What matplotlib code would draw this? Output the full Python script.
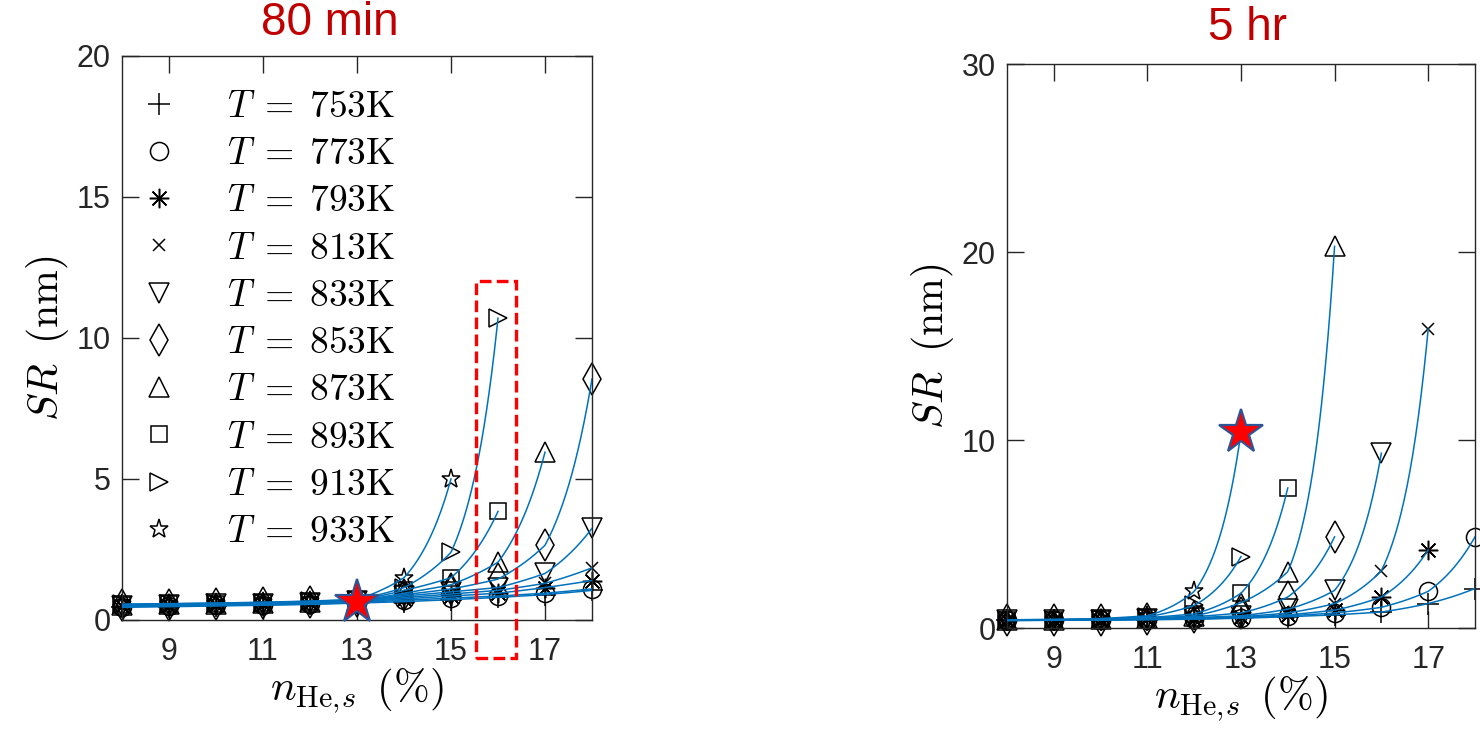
import numpy as np
import matplotlib
matplotlib.use('Agg')
import matplotlib.pyplot as plt
from matplotlib.patches import Rectangle

plt.rcParams['mathtext.fontset'] = 'cm'
plt.rcParams['font.family'] = ['Liberation Sans', 'DejaVu Sans']

nan = np.nan

# helium concentration (%)
n_he = [8, 9, 10, 11, 12, 13, 14, 15, 16, 17, 18]
temps = [753, 773, 793, 813, 833, 853, 873, 893, 913, 933]

# SR (nm) after 80 min, one row per temperature
sr_80min = [
    [0.45, 0.47, 0.50, 0.52, 0.55, 0.60, 0.65, 0.72, 0.80, 0.90, 1.05],
    [0.47, 0.49, 0.52, 0.54, 0.57, 0.62, 0.70, 0.78, 0.85, 0.95, 1.10],
    [0.48, 0.50, 0.53, 0.56, 0.59, 0.64, 0.75, 0.85, 0.95, 1.15, 1.40],
    [0.50, 0.52, 0.55, 0.58, 0.61, 0.66, 0.80, 0.92, 1.05, 1.30, 1.85],
    [0.50, 0.52, 0.55, 0.58, 0.62, 0.67, 0.85, 1.00, 1.15, 1.65, 3.25],
    [0.52, 0.54, 0.56, 0.59, 0.63, 0.68, 0.90, 1.10, 1.45, 2.65, 8.55],
    [0.53, 0.55, 0.57, 0.60, 0.64, 0.69, 0.95, 1.25, 2.05, 5.95, nan],
    [0.54, 0.56, 0.58, 0.61, 0.65, 0.70, 1.05, 1.50, 3.85, nan, nan],
    [0.55, 0.57, 0.59, 0.62, 0.66, 0.72, 1.15, 2.40, 10.7, nan, nan],
    [0.56, 0.58, 0.60, 0.63, 0.67, 0.73, 1.50, 5.00, nan, nan, nan],
]

# SR (nm) after 5 hr
sr_5hr = [
    [0.40, 0.41, 0.42, 0.44, 0.47, 0.52, 0.60, 0.70, 0.85, 1.30, 2.10],
    [0.40, 0.41, 0.43, 0.45, 0.48, 0.54, 0.65, 0.80, 1.10, 1.95, 4.85],
    [0.41, 0.42, 0.43, 0.46, 0.50, 0.56, 0.70, 0.95, 1.65, 4.15, nan],
    [0.41, 0.42, 0.44, 0.47, 0.52, 0.60, 0.80, 1.30, 3.05, 15.9, nan],
    [0.42, 0.43, 0.45, 0.48, 0.55, 0.65, 1.00, 2.00, 9.30, nan, nan],
    [0.42, 0.43, 0.45, 0.50, 0.60, 0.80, 1.65, 4.85, nan, nan, nan],
    [0.42, 0.44, 0.46, 0.52, 0.65, 1.35, 3.00, 20.3, nan, nan, nan],
    [0.43, 0.44, 0.47, 0.55, 0.75, 1.85, 7.45, nan, nan, nan, nan],
    [0.43, 0.45, 0.48, 0.60, 1.20, 3.80, nan, nan, nan, nan, nan],
    [0.44, 0.45, 0.50, 0.65, 1.95, 10.4, nan, nan, nan, nan, nan],
]

# highlighted points (n_He, SR)
star_80min = (13, 0.65)
star_5hr = (13, 10.4)

markers = ['+', 'o', (8, 2, 0), 'x', 'v', 'd', '^', 's', '>', '*']
msizes = [16, 13, 14, 9, 14, 16, 14, 11, 13, 14]
line_blue = '#0072BD'
dark = '#262626'


def smooth(x, y):
    # draw the curve through the points, exponential between neighbours
    x = np.asarray(x, float)
    y = np.asarray(y, float)
    ok = ~np.isnan(y)
    x, y = x[ok], y[ok]
    xf = np.linspace(x[0], x[-1], 300)
    return xf, np.exp(np.interp(xf, x, np.log(y)))


def draw_panel(ax, data, ymax, yticks, star, legend=False):
    for i, t in enumerate(temps):
        ax.plot(n_he, data[i], linestyle='none', marker=markers[i],
                markersize=msizes[i], mfc='none', mec='k', mew=1.1,
                label=r'$T\;=\;%d\mathrm{K}$' % t, zorder=2, clip_on=False)
    for i in range(len(temps)):
        xs, ys = smooth(n_he, data[i])
        ax.plot(xs, ys, color=line_blue, lw=1.1, zorder=3)
    ax.plot(star[0], star[1], marker='*', markersize=33, mfc='#FF0000',
            mec='#2F5597', mew=1.6, linestyle='none', zorder=5, clip_on=False)

    ax.set_xlim(8, 18)
    ax.set_ylim(0, ymax)
    ax.set_xticks([9, 11, 13, 15, 17])
    ax.set_yticks(yticks)
    ax.tick_params(direction='in', top=True, right=True, length=12,
                   width=1.0, color=dark, labelcolor=dark, labelsize=22)
    ax.tick_params(axis='x', pad=12)
    ax.tick_params(axis='y', pad=8)
    for s in ax.spines.values():
        s.set_color(dark)
        s.set_linewidth(1.0)
    ax.set_xlabel(r'$n_{\mathrm{He},\!s}\ \,(\%)$', fontsize=31, labelpad=0)
    ax.set_ylabel(r'$SR\;\;(\mathrm{nm})$', fontsize=30, labelpad=4)

    if legend:
        ax.legend(loc='upper left', bbox_to_anchor=(0.0, 0.975), frameon=False,
                  fontsize=27, handlelength=1.0, handletextpad=1.3,
                  labelspacing=0.3, borderaxespad=0.2, borderpad=0.3)


fig = plt.figure(figsize=(14.8, 7.3), dpi=100)
ax1 = fig.add_axes([0.0824, 0.1507, 0.3176, 0.7726])
ax2 = fig.add_axes([0.6804, 0.1397, 0.3162, 0.7726])

draw_panel(ax1, sr_80min, 20, [0, 5, 10, 15, 20], star_80min, legend=True)
draw_panel(ax2, sr_5hr, 30, [0, 10, 20, 30], star_5hr)

box = Rectangle((15.53, -1.35), 0.85, 13.37, fill=False, edgecolor='#FF0000',
                lw=2.4, linestyle=(0, (3.5, 1.6)), clip_on=False, zorder=6)
ax1.add_patch(box)

fig.text(0.223, 0.968, '80 min', color='#C00000', fontsize=33,
         ha='center', va='center')
fig.text(0.8426, 0.962, '5 hr', color='#C00000', fontsize=33,
         ha='center', va='center')

fig.savefig('out.png', dpi=100)
